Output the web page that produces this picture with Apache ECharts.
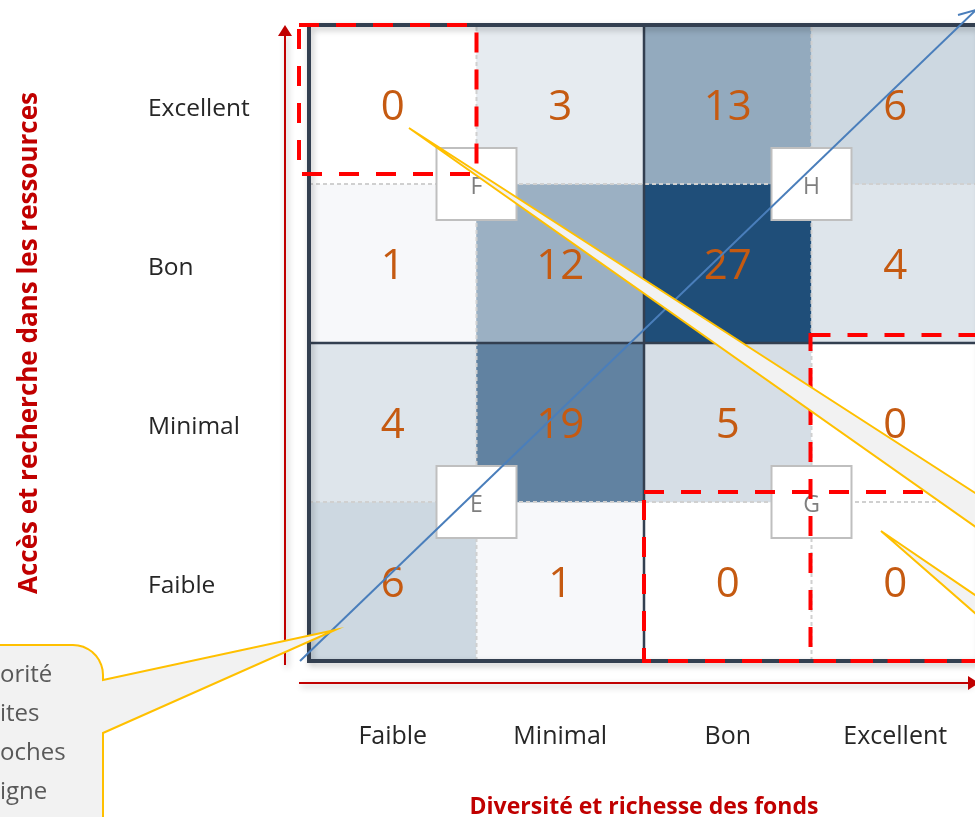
<!DOCTYPE html>
<html>
<head>
<meta charset="utf-8">
<script src="https://cdn.jsdelivr.net/npm/echarts@6/dist/echarts.min.js"></script>
<style>
  html, body { margin: 0; padding: 0; background: #fff; }
  #main { width: 975px; height: 817px; }
</style>
</head>
<body>
<div id="main"></div>
<script>
// categories (same scale on both axes)
const levels = ['Faible', 'Minimal', 'Bon', 'Excellent'];

// counts per row of "Accès et recherche", columns = "Diversité et richesse"
const countsFaible = [6, 1, 0, 0];
const countsMinimal = [4, 19, 5, 0];
const countsBon = [1, 12, 27, 4];
const countsExcellent = [0, 3, 13, 6];
const rows = [countsFaible, countsMinimal, countsBon, countsExcellent];

// quadrant letters, placed on the inner cell corners
const quadrantNames = ['E', 'F', 'G', 'H'];
const quadrantCol = [1, 1, 3, 3];
const quadrantRow = [1, 3, 1, 3];

const heatData = [];
rows.forEach((r, yi) => r.forEach((v, xi) => heatData.push([xi, yi, v])));

const chart = echarts.init(document.getElementById('main'));

const option = {
  animation: false,
  grid: { left: 309, top: 25, width: 670, height: 636, outerBoundsMode: 'none' },
  xAxis: {
    type: 'category',
    data: levels,
    offset: 22,
    axisLine: { show: false },
    axisTick: { show: false },
    splitLine: { show: false },
    axisLabel: { margin: 41, color: '#262626', fontSize: 25, fontFamily: 'Open Sans' },
    name: 'Diversité et richesse des fonds',
    nameLocation: 'middle',
    nameGap: 113,
    nameTextStyle: { color: '#c00000', fontWeight: 'bold', fontSize: 23, fontFamily: 'Open Sans' }
  },
  yAxis: {
    type: 'category',
    data: levels,
    offset: 24,
    axisLine: { show: false },
    axisTick: { show: false },
    splitLine: { show: false },
    axisLabel: {
      margin: 137,
      align: 'left',
      formatter: '{a|{value}}',
      rich: { a: { color: '#262626', fontSize: 24.5, fontFamily: 'Open Sans', padding: [10, 0, 0, 0] } }
    },
    name: 'Accès et recherche dans les ressources',
    nameLocation: 'middle',
    nameGap: 242,
    nameTextStyle: { color: '#c00000', fontWeight: 'bold', fontSize: 26, fontFamily: 'Open Sans' }
  },
  visualMap: {
    show: false,
    min: 0,
    max: 27,
    inRange: { color: ['#ffffff', '#1f4e79'] }
  },
  series: [{
    type: 'heatmap',
    data: heatData,
    label: { show: true, color: '#c55a11', fontSize: 42, fontFamily: 'Open Sans', offset: [0, 4] },
    itemStyle: { borderWidth: 0 },
    emphasis: { disabled: true }
  }]
};
chart.setOption(option);

// cell edges from the axes
const xc = levels.map(l => chart.convertToPixel({ xAxisIndex: 0 }, l));
const yc = levels.map(l => chart.convertToPixel({ yAxisIndex: 0 }, l));
const bw = xc[1] - xc[0];
const bh = yc[0] - yc[1];
const xEdge = i => xc[0] - bw / 2 + i * bw;
const yEdge = i => yc[0] + bh / 2 - i * bh;

const els = [];
function line(x1, y1, x2, y2, style, z) {
  els.push({ type: 'line', z: z, shape: { x1, y1, x2, y2 }, style: style, silent: true });
}

// red axis arrows
const arrowStyle = { stroke: '#c00000', lineWidth: 2, shadowBlur: 6, shadowColor: 'rgba(0,0,0,0.3)', shadowOffsetX: 2, shadowOffsetY: 3 };
const ax = xEdge(0) - 24;
const ay = yEdge(0) + 22;
line(ax, yEdge(0) + 4, ax, yEdge(4) + 8, arrowStyle, 5);
els.push({ type: 'polygon', z: 5, silent: true, shape: { points: [[ax - 7, yEdge(4) + 11], [ax, yEdge(4)], [ax + 7, yEdge(4) + 11]] }, style: { fill: '#c00000' } });
line(xEdge(0) - 10, ay, xEdge(4) - 8, ay, arrowStyle, 5);
els.push({ type: 'polygon', z: 5, silent: true, shape: { points: [[xEdge(4) - 11, ay - 7], [xEdge(4), ay], [xEdge(4) - 11, ay + 7]] }, style: { fill: '#c00000' } });

// light dashed separators inside the quadrants
const sep = { stroke: '#d0d0d0', lineWidth: 2, lineDash: [4, 3] };
[1, 3].forEach(i => {
  line(xEdge(i), yEdge(0), xEdge(i), yEdge(4), sep, 10);
  line(xEdge(0), yEdge(i), xEdge(4), yEdge(i), sep, 10);
});
// quadrant lines
const dark = { stroke: '#333f50', lineWidth: 2.5 };
line(xEdge(2), yEdge(0), xEdge(2), yEdge(4), dark, 11);
line(xEdge(0), yEdge(2), xEdge(4), yEdge(2), dark, 11);
// outer border
els.push({
  type: 'rect', z: 12, silent: true,
  shape: { x: xEdge(0), y: yEdge(4), width: 4 * bw, height: 4 * bh },
  style: { fill: 'none', stroke: '#333f50', lineWidth: 4, shadowBlur: 6, shadowColor: 'rgba(0,0,0,0.25)', shadowOffsetX: 2, shadowOffsetY: 3 }
});

// quadrant boxes
quadrantNames.forEach((n, i) => {
  const cx = xEdge(quadrantCol[i]);
  const cy = yEdge(quadrantRow[i]);
  els.push({
    type: 'rect', z: 13, silent: true,
    shape: { x: cx - 40, y: cy - 36, width: 80, height: 72 },
    style: { fill: '#ffffff', stroke: '#bfbfbf', lineWidth: 2 }
  });
  els.push({
    type: 'text', z: 14, silent: true, x: cx, y: cy + 3,
    style: { text: n, fill: '#7f7f7f', fontSize: 23, fontFamily: 'Open Sans', align: 'center', verticalAlign: 'middle' }
  });
});

// diagonal trend line
const blue = { stroke: '#4a7ebb', lineWidth: 2 };
line(xEdge(0) - 9, yEdge(0), 976, 10, blue, 15);
els.push({ type: 'polyline', z: 15, silent: true, shape: { points: [[958, 15], [976, 10]] }, style: { stroke: '#4a7ebb', lineWidth: 2, fill: null } });

// red dashed highlight zones
const red = { fill: 'none', stroke: '#ff0000', lineWidth: 4, lineDash: [20, 17] };
els.push({ type: 'rect', z: 16, silent: true, shape: { x: xEdge(0) - 10, y: yEdge(4), width: xEdge(1) - xEdge(0) + 10, height: bh - 10 }, style: red });
els.push({ type: 'rect', z: 16, silent: true, shape: { x: xEdge(3) - 1, y: yEdge(2) - 8, width: 200, height: yEdge(0) - yEdge(2) + 8 }, style: red });
els.push({ type: 'rect', z: 16, silent: true, shape: { x: xEdge(2), y: yEdge(1) - 10, width: 400, height: yEdge(0) - yEdge(1) + 10 }, style: red });

// callouts
const callout = { fill: '#f2f2f2', stroke: '#ffc000', lineWidth: 2 };
els.push({ type: 'polygon', z: 20, silent: true, shape: { points: [[409, 128], [1000, 509], [1000, 544]] }, style: callout });
els.push({ type: 'polygon', z: 20, silent: true, shape: { points: [[881, 531], [1000, 612], [1000, 635]] }, style: callout });

const bubble = [[-10, 645], [73, 645]];
for (let a = -90; a <= 0; a += 10) {
  const r = a * Math.PI / 180;
  bubble.push([73 + 30 * Math.cos(r), 675 + 30 * Math.sin(r)]);
}
bubble.push([103, 680], [335, 630], [103, 733], [103, 830], [-10, 830]);
els.push({ type: 'polygon', z: 20, silent: true, shape: { points: bubble }, style: callout });

const bubbleText = ['orité', 'ites', 'oches', 'igne'];
bubbleText.forEach((t, i) => {
  els.push({
    type: 'text', z: 21, silent: true, x: 0, y: 675 + i * 39,
    style: { text: t, fill: '#595959', fontSize: 24, fontFamily: 'Open Sans', align: 'left', verticalAlign: 'middle' }
  });
});

chart.setOption({ graphic: { elements: els } });
</script>
</body>
</html>
